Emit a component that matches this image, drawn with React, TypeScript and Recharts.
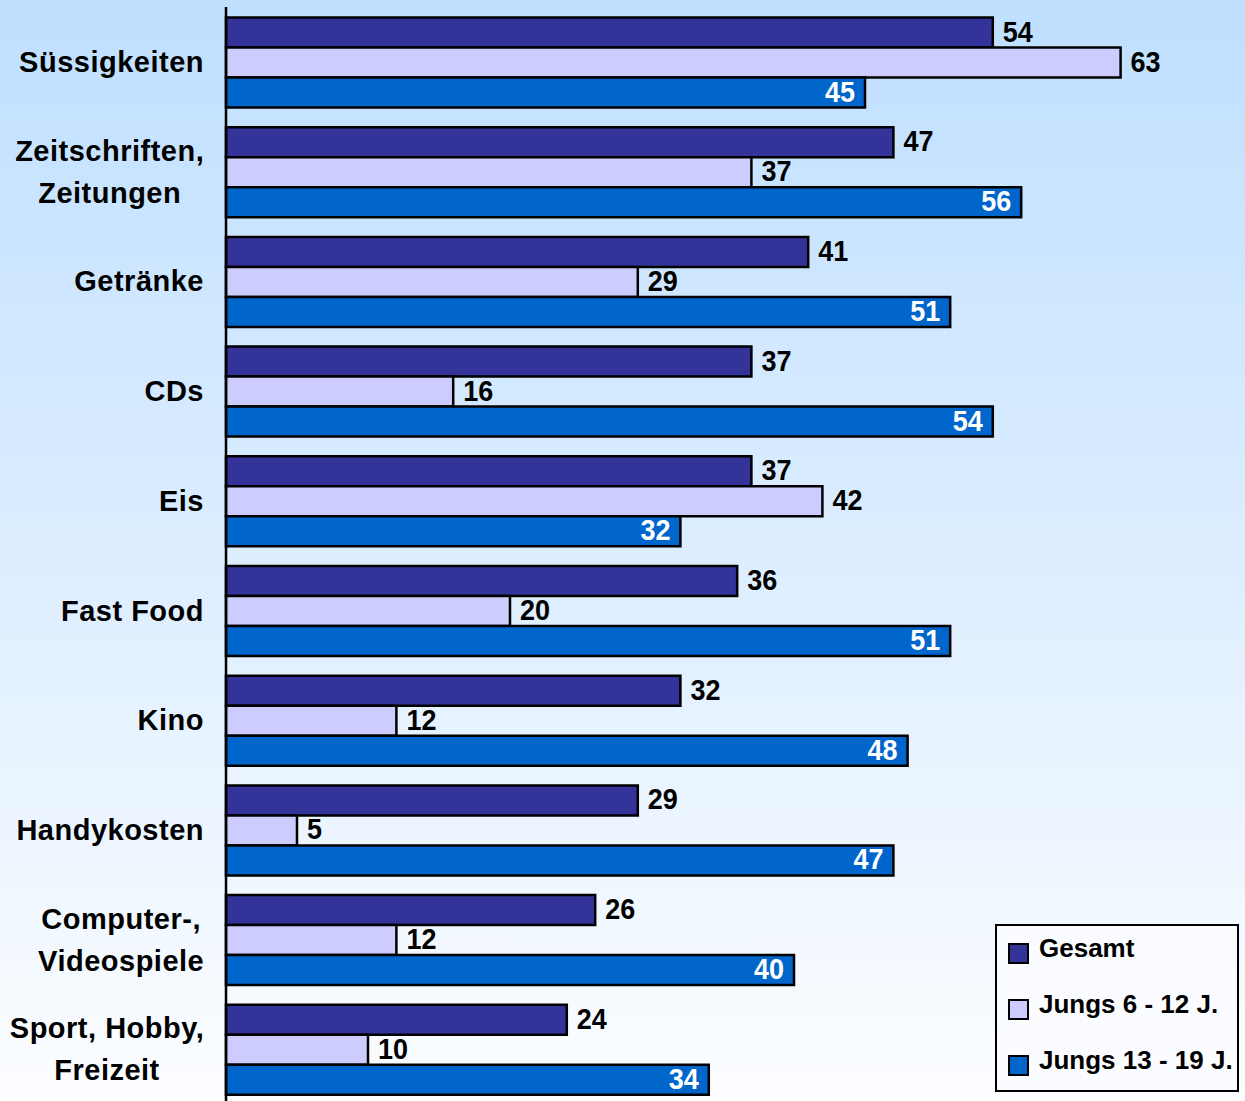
import React from "react"
import { BarChart, Bar, XAxis, YAxis, LabelList } from "recharts"

const categories = [
  "Süssigkeiten",
  "Zeitschriften,\nZeitungen",
  "Getränke",
  "CDs",
  "Eis",
  "Fast Food",
  "Kino",
  "Handykosten",
  "Computer-,\nVideospiele",
  "Sport, Hobby,\nFreizeit",
]
const gesamt = [54, 47, 41, 37, 37, 36, 32, 29, 26, 24]
const jungs612 = [63, 37, 29, 16, 42, 20, 12, 5, 12, 10]
const jungs1319 = [45, 56, 51, 54, 32, 51, 48, 47, 40, 34]

const series = [
  { key: "gesamt", name: "Gesamt", color: "#333399" },
  { key: "jungs612", name: "Jungs 6 - 12 J.", color: "#CCCCFF" },
  { key: "jungs1319", name: "Jungs 13 - 19 J.", color: "#0066CC" },
]

const data = categories.map((name, i) => ({
  name,
  gesamt: gesamt[i],
  jungs612: jungs612[i],
  jungs1319: jungs1319[i],
}))

const fontFamily = "'Liberation Sans', Arial, sans-serif"
const catFont = "bold 29px 'Liberation Sans', Arial, sans-serif"

let ctx: CanvasRenderingContext2D | null = null
function textWidth(s: string) {
  if (!ctx) ctx = document.createElement("canvas").getContext("2d")
  if (!ctx) return s.length * 15
  ctx.font = catFont
  return ctx.measureText(s).width + (s.length - 1) * 0.5
}

function CategoryTick(props: any) {
  const { x, y, payload } = props
  const lines: string[] = String(payload.value).split("\n")
  const right = x - 14
  const style = { fontFamily, fontWeight: 700, fontSize: 29, letterSpacing: 0.5 }
  if (lines.length === 1) {
    return (
      <text x={right} y={y} dy="0.35em" textAnchor="end" fill="#000" style={style}>
        {lines[0]}
      </text>
    )
  }
  const maxW = Math.max(...lines.map(textWidth))
  const cx = right - maxW / 2
  return (
    <g>
      {lines.map((l, i) => (
        <text key={i} x={cx} y={y + (i - (lines.length - 1) / 2) * 42} dy="0.35em" textAnchor="middle" fill="#000" style={style}>
          {l}
        </text>
      ))}
    </g>
  )
}

// condensed bold value label, outside (black) or inside the bar end (white)
function valueLabel(inside: boolean) {
  return (props: any) => {
    const { x, y, width, height, value } = props
    const ax = inside ? x + width - 10 : x + width + 10
    const ay = y + height / 2
    return (
      <text
        transform={`translate(${ax},${ay}) scale(0.9,1)`}
        x={0}
        y={0}
        dy="0.3em"
        textAnchor={inside ? "end" : "start"}
        fill={inside ? "#fff" : "#000"}
        style={{ fontFamily, fontWeight: 700, fontSize: 30 }}
      >
        {value}
      </text>
    )
  }
}

function LegendBox() {
  return (
    <div
      style={{
        position: "absolute",
        left: 995,
        top: 924,
        width: 244,
        height: 168,
        border: "2.5px solid #000",
        background: "#FAFCFF",
        boxSizing: "border-box",
        fontFamily,
        fontWeight: 700,
        fontSize: 26,
      }}
    >
      {series.map((s) => (
        <div key={s.key} style={{ position: "relative", height: 56 }}>
          <span
            style={{
              position: "absolute",
              left: 11,
              top: 17,
              width: 17,
              height: 17,
              background: s.color,
              border: "2px solid #000",
            }}
          />
          <span style={{ position: "absolute", left: 42, top: 7, color: "#000", whiteSpace: "nowrap" }}>{s.name}</span>
        </div>
      ))}
    </div>
  )
}

export default function App() {
  return (
    <div
      style={{
        position: "absolute",
        left: 0,
        top: 0,
        width: 1245,
        height: 1101,
        overflow: "hidden",
        background: "linear-gradient(180deg, #BFDFFF 0%, #D9ECFF 45%, #FCFDFF 100%)",
      }}
    >
      <BarChart
        width={1245}
        height={1108}
        data={data}
        layout="vertical"
        margin={{ top: 7, right: 25, bottom: 4, left: 0 }}
        barCategoryGap={10.5}
        barGap={0}
      >
        <XAxis type="number" domain={[0, 70]} hide />
        <YAxis
          type="category"
          dataKey="name"
          width={226}
          tickLine={false}
          axisLine={{ stroke: "#000", strokeWidth: 2.5 }}
          tick={<CategoryTick />}
          interval={0}
        />
        {series.map((s, i) => (
          <Bar key={s.key} dataKey={s.key} name={s.name} fill={s.color} stroke="#000" strokeWidth={2.5} isAnimationActive={false}>
            <LabelList dataKey={s.key} content={valueLabel(i === 2)} />
          </Bar>
        ))}
      </BarChart>
      <LegendBox />
    </div>
  )
}
